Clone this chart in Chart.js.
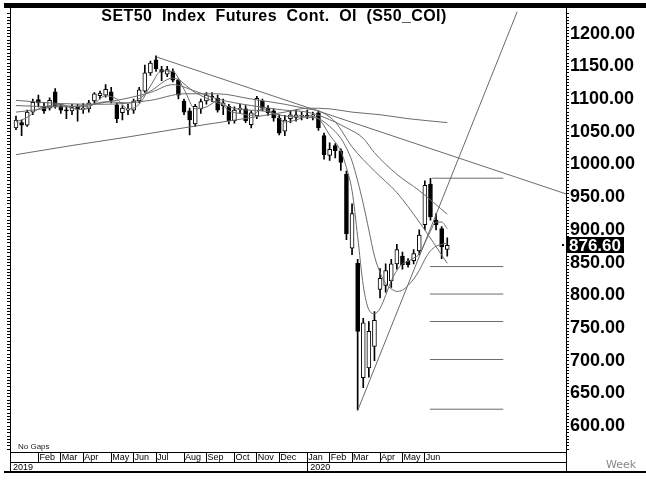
<!DOCTYPE html>
<html><head><meta charset="utf-8">
<script src="https://cdn.jsdelivr.net/npm/chart.js@4/dist/chart.umd.min.js"></script>
<style>html,body{margin:0;padding:0;background:#fff}canvas{display:block}</style>
</head><body>
<canvas id="c" width="646" height="484"></canvas>
<script>
// ---- weekly OHLC (bar index 0 = first week of Jan 2019) ----
const opens  = [1056,1064,1060,1080,1099,1089,1086,1111,1089,1083,1082,1088,1084,1085,1097,1105,1106,1111,1091,1079,
                1083,1083,1097,1112,1140,1160,1145,1138,1142,1129,1097,1082,1062,1085,1097,1104,1101,1090,1089,1067,
                1084,1085,1061,1074,1097,1086,1082,1071,1051,1070,1072,1074,1075,1074,1079,1044,1014,1029,1021,985,
                872,849,674,689,722,809,815,822,848,860,852,853,868,908,970,915,902,870];
const highs  = [1074,1068,1083,1100,1106,1095,1102,1116,1092,1088,1092,1092,1093,1098,1110,1112,1122,1118,1094,1090,
                1092,1100,1118,1152,1158,1166,1150,1150,1146,1131,1100,1086,1092,1100,1110,1110,1106,1100,1092,1088,
                1092,1090,1082,1104,1100,1090,1085,1076,1075,1082,1083,1080,1083,1080,1082,1048,1033,1032,1024,990,
                940,855,765,760,775,841,848,855,878,866,856,870,900,975,979,925,905,888];
const lows   = [1053,1044,1058,1076,1088,1078,1083,1086,1078,1070,1076,1066,1078,1080,1093,1100,1103,1094,1064,1068,
                1076,1078,1094,1110,1136,1142,1128,1134,1126,1100,1076,1045,1058,1078,1092,1096,1080,1076,1062,1063,
                1078,1064,1056,1070,1082,1075,1066,1045,1044,1064,1066,1068,1070,1068,1052,1008,1006,1010,991,885,
                862,625,659,675,700,796,805,812,840,840,843,848,862,900,915,900,856,860];
const closes = [1068,1060,1080,1095,1094,1082,1098,1089,1083,1082,1087,1084,1086,1094,1108,1109,1115,1098,1070,1086,
                1084,1097,1114,1140,1155,1146,1141,1145,1129,1106,1080,1068,1089,1096,1106,1103,1083,1094,1067,1083,
                1086,1067,1079,1101,1086,1079,1071,1048,1068,1076,1076,1075,1074,1076,1056,1015,1023,1021,1003,894,
                925,745,758,745,762,826,838,848,870,847,847,864,892,968,920,908,874,876.60];

// ---- moving averages: [bar index, value] ----
const maFast = [[0,1065],[2,1072],[4,1085],[6,1090],[8,1092],[10,1086],[12,1084],[14,1093],[16,1105],[18,1100],[20,1085],
  [22,1092],[24,1120],[26,1143],[28,1142],[30,1115],[32,1085],[34,1088],[36,1097],[38,1082],[40,1078],[42,1075],[44,1085],
  [46,1078],[48,1065],[50,1068],[52,1074],[54,1070],[56,1045],[58,1020],[59,995],[60,960],[61,890],[62,815],[63,778],
  [64,772],[65,780],[66,800],[67,822],[68,838],[69,848],[70,852],[71,857],[72,863],[73,880],[74,898],[75,912],[76,912],[77,902]];
const maMid = [[0,1080],[4,1084],[8,1090],[12,1088],[16,1096],[20,1094],[24,1112],[28,1132],[32,1110],[36,1094],[40,1084],
  [44,1082],[48,1074],[52,1072],[54,1070],[56,1058],[58,1040],[59,1025],[60,1005],[61,975],[62,940],[63,900],[64,860],
  [65,835],[66,818],[67,810],[68,806],[69,808],[70,815],[71,825],[72,838],[73,855],[74,868],[75,875],[76,878],[77,880]];
const maSlowA = [[0,1090],[8,1088],[16,1095],[24,1110],[28,1122],[32,1112],[36,1100],[42,1090],[48,1083],[52,1080],
  [55,1072],[59,1056],[62,1040],[64,1018],[68,985],[72,960],[77,924]];
const maSlowB = [[0,1098],[8,1093],[16,1092],[24,1098],[30,1108],[36,1108],[42,1100],[48,1092],[52,1085],[54,1082],
  [57,1065],[60,1027],[64,990],[68,957],[72,912],[77,849]];
const maLong = [[0,1015],[10,1029],[20,1042],[30,1056],[40,1069],[48,1080],[52,1086],[56,1085],[60,1080],[65,1076],[70,1070],[77,1064]];

// ---- drawn trend lines and retracement levels ----
const trendDown = [[25.2,1164],[98.2,955]];
const trendUp   = [[61,624],[89.7,1238]];
const levelHigh = 979;
const levels    = [844, 802, 760, 702, 626];
const levelStart = 73.9, levelEnd = 87;

// ---- axis ticks ----
const monthTickIdx = [4,8,12,17,21,25,30,34,39,43,47,52,56,60,65,69,73];
const monthTickLabels = ['Feb','Mar','Apr','May','Jun','Jul','Aug','Sep','Oct','Nov','Dec','Jan','Feb','Mar','Apr','May','Jun'];
const yearTickIdx = [-1.07, 52];
const yearTickLabels = ['2019','2020'];
const yTickLabels = [600,650,700,750,800,850,900,950,1000,1050,1100,1150,1200];

const X_MIN = -1.07, X_MAX = 98.2, Y_MIN = 560.6, Y_MAX = 1233.3;
const LINE = '#6b6b6b';

const idx = closes.map((_, i) => i);
const pts = arr => arr.map(p => ({x: p[0], y: p[1]}));
const lineDs = (data, tension) => ({type:'line', data: pts(data), borderColor: LINE, borderWidth: 1,
  pointRadius: 0, tension: tension, cubicInterpolationMode: tension ? 'monotone' : 'default', order: 1});

const datasets = [
  {type:'bar', data: idx.map(i => ({x:i, y:[lows[i], highs[i]]})), backgroundColor:'#000', barThickness:1,
   grouped:false, order:3},
  {type:'bar', data: idx.map(i => ({x:i, y:[opens[i], closes[i]]})),
   backgroundColor: idx.map(i => closes[i] >= opens[i] ? '#fff' : '#000'), borderColor:'#000', borderWidth:1,
   borderSkipped:false, barThickness:4, minBarLength:1, grouped:false, order:2},
  lineDs(maFast, 0.4), lineDs(maMid, 0.4), lineDs(maSlowA, 0.4), lineDs(maSlowB, 0.4), lineDs(maLong, 0.4),
  lineDs(trendDown, 0), lineDs(trendUp, 0),
  lineDs([[levelStart + 0.4, levelHigh],[levelEnd, levelHigh]], 0),
  ...levels.map(v => lineDs([[levelStart, v],[levelEnd, v]], 0))
];

const minorTicks = [];
for (let v = 565; v <= 1230; v += 5) minorTicks.push({value: v});

const decor = {
  id: 'decor',
  afterDraw(chart) {
    const c = chart.ctx, y = chart.scales.y;
    c.save();
    c.fillStyle = '#000';
    c.fillRect(4, 3, 642, 5);
    c.fillRect(10, 8, 1, 464);
    c.fillRect(566, 8, 1, 464);
    c.fillRect(4, 471, 642, 2);
    // title
    c.font = 'bold 16px "Liberation Sans"';
    c.letterSpacing = '0.4px';
    c.textAlign = 'center'; c.textBaseline = 'middle';
    c.fillText('SET50  Index  Futures  Cont.  OI  (S50_COI)', 274, 17);
    c.letterSpacing = '0px';
    // footer texts
    c.font = '8px "Liberation Sans"'; c.textAlign = 'left';
    c.fillStyle = '#222';
    c.fillText('No Gaps', 18, 447);
    c.font = '11px "DejaVu Sans"'; c.fillStyle = '#888';
    c.fillText('Week', 606, 465);
    // last price marker
    const last = closes[closes.length - 1];
    const py = y.getPixelForValue(last);
    c.fillStyle = '#000';
    c.fillRect(562, Math.round(py) - 1, 2, 2);
    c.fillRect(567, Math.round(py) - 8, 57, 16);
    c.fillStyle = '#fff';
    c.font = 'bold 17px "Liberation Sans"';
    c.fillText(last.toFixed(2), 569, py + 1);
    c.restore();
  }
};

new Chart(document.getElementById('c'), {
  type: 'bar',
  data: { datasets },
  plugins: [decor],
  options: {
    responsive: false, animation: false, devicePixelRatio: 1,
    layout: { padding: { top: 8, left: 6, right: 0, bottom: 13 } },
    plugins: { legend: {display:false}, tooltip: {enabled:false}, title: {display:false} },
    scales: {
      x: {
        type:'linear', min:X_MIN, max:X_MAX, offset:false, position:'bottom',
        grid: {drawOnChartArea:false, drawTicks:true, tickLength:10, color:'#000', lineWidth:1, offset:false},
        border: {display:true, color:'#000'},
        ticks: {align:'start', padding:-10, labelOffset:1, autoSkip:false, maxRotation:0, minRotation:0, color:'#000',
                font:{size:9, family:'"Liberation Sans"'}, callback:(v, i) => monthTickLabels[i]},
        afterBuildTicks: s => { s.ticks = monthTickIdx.map(v => ({value:v})); },
        afterFit: s => { s.height = 10; }
      },
      x2: {
        type:'linear', min:X_MIN, max:X_MAX, offset:false, position:'bottom',
        grid: {drawOnChartArea:false, drawTicks:true, tickLength:9, color:'#000', lineWidth:1, offset:false},
        border: {display:true, color:'#000'},
        ticks: {align:'start', padding:-9, labelOffset:3, autoSkip:false, maxRotation:0, minRotation:0, color:'#000',
                font:{size:9, family:'"Liberation Sans"'}, callback:(v, i) => yearTickLabels[i]},
        afterBuildTicks: s => { s.ticks = yearTickIdx.map(v => ({value:v})); },
        afterFit: s => { s.height = 9; }
      },
      y: {
        type:'linear', position:'right', min:Y_MIN, max:Y_MAX,
        grid: {drawOnChartArea:false, drawTicks:true, tickLength:3, color:'#000', lineWidth:1},
        border: {display:true, color:'#000'},
        ticks: {autoSkip:false, padding:1, color:'#000', font:{size:18, weight:'bold', family:'"Liberation Sans"'},
                callback: v => yTickLabels.includes(Math.round(v)) && Math.abs(v - Math.round(v)) < 1e-6 ? v.toFixed(2) : ''},
        afterBuildTicks: s => { s.ticks = minorTicks.map(t => ({value:t.value})); },
        afterFit: s => { s.width = 80; }
      },
      yl: {
        type:'linear', position:'left', min:Y_MIN, max:Y_MAX,
        grid: {drawOnChartArea:false, drawTicks:true, tickLength:3, color:'#000', lineWidth:1},
        border: {display:false},
        ticks: {display:false},
        afterBuildTicks: s => { s.ticks = minorTicks.map(t => ({value:t.value})); },
        afterFit: s => { s.width = 4; }
      }
    }
  }
});
</script>
</body></html>
